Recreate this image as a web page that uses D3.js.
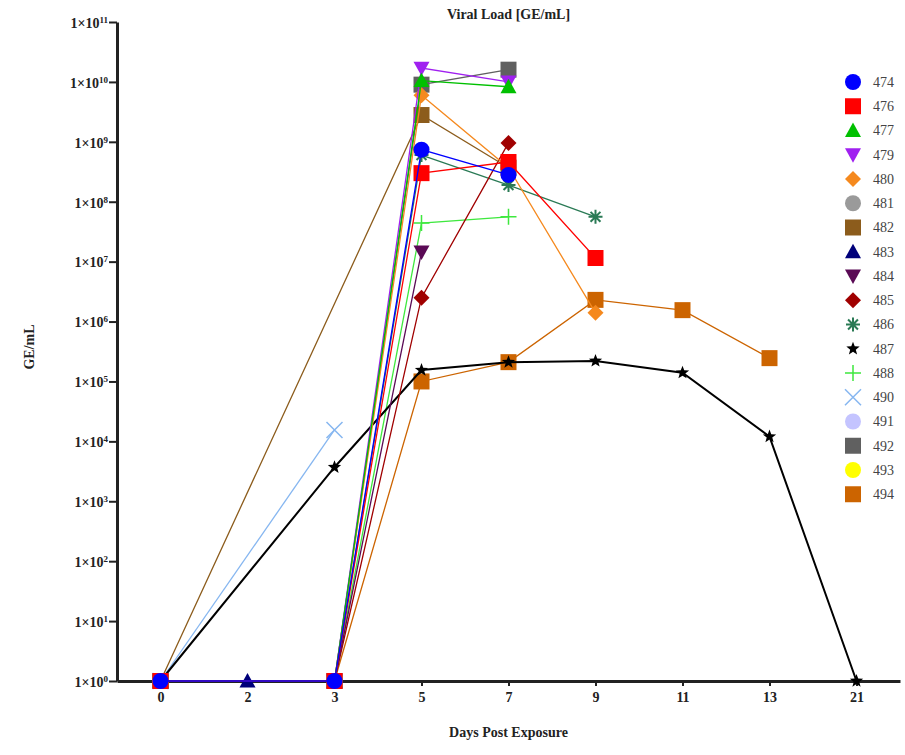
<!DOCTYPE html>
<html>
<head>
<meta charset="utf-8">
<script src="https://cdn.jsdelivr.net/npm/d3@7"></script>
<style>
  body { margin: 0; background: #fff; }
  svg { display: block; font-family: "Liberation Serif", "Times New Roman", serif; }
  .axis path, .axis line { stroke: #222; }
  .axis text { font-weight: bold; font-size: 14px; fill: #222; }
  .title, .label { font-weight: bold; font-size: 14px; fill: #222; }
  .legend text { font-size: 14px; fill: #444; }
</style>
</head>
<body>
<svg id="chart" width="905" height="755"></svg>
<script>
const MARGIN = { top: 22, right: 5, bottom: 74, left: 117 };
const W = 905, H = 755;
const width = W - MARGIN.left - MARGIN.right;
const height = H - MARGIN.top - MARGIN.bottom;

// x categories (days post exposure)
const days = ['0', '2', '3', '5', '7', '9', '11', '13', '21'];
const yTickExp = [0, 1, 2, 3, 4, 5, 6, 7, 8, 9, 10, 11];

// animal ids, one series per animal
const ids = ['474', '476', '477', '479', '480', '481', '482', '483', '484',
  '485', '486', '487', '488', '490', '491', '492', '493', '494'];

// GE/mL per day, aligned with `days`, null = no sample
//            0     2     3      5       7       9       11      13      21
const v474 = [1,    null, 1,     7.4e8,  2.8e8,  null,   null,   null,   null];
const v476 = [1,    null, 1,     3.0e8,  4.6e8,  1.15e7, null,   null,   null];
const v477 = [1,    null, 1,     1.05e10, 8.3e9, null,   null,   null,   null];
const v479 = [1,    null, 1,     1.7e10, 1.0e10, null,   null,   null,   null];
const v480 = [1,    null, 1,     6.0e9,  3.7e8,  1.4e6,  null,   null,   null];
const v481 = [1,    null, null,  null,   null,   null,   null,   null,   null];
const v482 = [1,    null, null,  2.8e9,  3.7e8,  null,   null,   null,   null];
const v483 = [1,    1,    1,     null,   null,   null,   null,   null,   null];
const v484 = [1,    null, 1,     1.45e7, null,   null,   null,   null,   null];
const v485 = [1,    null, 1,     2.5e6,  9.6e8,  null,   null,   null,   null];
const v486 = [1,    null, 1,     6.0e8,  1.9e8,  5.6e7,  null,   null,   null];
const v487 = [1,    null, 3.7e3, 1.55e5, 2.1e5,  2.2e5,  1.4e5,  1.2e4,  1];
const v488 = [1,    null, 1,     4.4e7,  5.6e7,  null,   null,   null,   null];
const v490 = [1,    null, 1.55e4, null,  null,   null,   null,   null,   null];
const v491 = [1,    null, null,  null,   null,   null,   null,   null,   null];
const v492 = [1,    null, 1,     9.0e9,  1.6e10, null,   null,   null,   null];
const v493 = [1,    null, null,  null,   null,   null,   null,   null,   null];
const v494 = [1,    null, 1,     1.0e5,  2.1e5,  2.3e6,  1.55e6, 2.45e5, null];

const values = [v474, v476, v477, v479, v480, v481, v482, v483, v484,
  v485, v486, v487, v488, v490, v491, v492, v493, v494];

// marker style per animal
const colors = ['#0000ff', '#ff0000', '#00c000', '#a020f0', '#f5891e', '#9a9a9a',
  '#8c5c1c', '#00007a', '#5a0a55', '#a00000', '#2a7a55', '#000000', '#3ee83e',
  '#86b6f0', '#c4c4ff', '#606060', '#ffff00', '#cc6400'];
const shapes = ['circle', 'square', 'triUp', 'triDown', 'diamond', 'circle',
  'square', 'triUp', 'triDown', 'diamond', 'asterisk', 'star', 'plus',
  'times', 'circle', 'square', 'circle', 'square'];

const series = ids.map((id, i) => ({
  id,
  color: colors[i],
  shape: shapes[i],
  points: days.map((d, j) => ({ day: d, v: values[i][j] })).filter(p => p.v != null)
}));

const svg = d3.select('#chart');

const x = d3.scalePoint().domain(days).range([0, width]).padding(0.5);
const y = d3.scaleLog().domain([1, 1e11]).range([height, 0]);

const g = svg.append('g').attr('transform', `translate(${MARGIN.left},${MARGIN.top})`);

// marker paths, s = half size in px
function shapePath(type, s) {
  const p = d3.path();
  if (type === 'circle') { p.arc(0, 0, s, 0, 2 * Math.PI); }
  else if (type === 'square') { p.rect(-s, -s, 2 * s, 2 * s); }
  else if (type === 'triUp') { p.moveTo(0, -s); p.lineTo(s, s * 0.8); p.lineTo(-s, s * 0.8); p.closePath(); }
  else if (type === 'triDown') { p.moveTo(0, s); p.lineTo(s, -s * 0.8); p.lineTo(-s, -s * 0.8); p.closePath(); }
  else if (type === 'diamond') { p.moveTo(0, -s); p.lineTo(s, 0); p.lineTo(0, s); p.lineTo(-s, 0); p.closePath(); }
  else if (type === 'star') {
    for (let k = 0; k < 10; k++) {
      const r = k % 2 ? s * 0.42 : s;
      const a = -Math.PI / 2 + k * Math.PI / 5;
      if (k === 0) p.moveTo(r * Math.cos(a), r * Math.sin(a));
      else p.lineTo(r * Math.cos(a), r * Math.sin(a));
    }
    p.closePath();
  }
  else if (type === 'asterisk') {
    for (let k = 0; k < 4; k++) {
      const a = k * Math.PI / 4;
      p.moveTo(-s * Math.cos(a), -s * Math.sin(a));
      p.lineTo(s * Math.cos(a), s * Math.sin(a));
    }
  }
  else if (type === 'plus') { p.moveTo(-s, 0); p.lineTo(s, 0); p.moveTo(0, -s); p.lineTo(0, s); }
  else if (type === 'times') { p.moveTo(-s, -s); p.lineTo(s, s); p.moveTo(-s, s); p.lineTo(s, -s); }
  return p.toString();
}
const strokeOnly = t => t === 'asterisk' || t === 'plus' || t === 'times';
const markSize = t => (t === 'star' || t === 'asterisk') ? 7 : 8;

function drawMark(sel, d) {
  sel.append('path')
    .attr('d', shapePath(d.shape, markSize(d.shape)))
    .attr('fill', strokeOnly(d.shape) ? 'none' : d.color)
    .attr('stroke', d.color)
    .attr('stroke-width', strokeOnly(d.shape) ? (d.shape === 'asterisk' ? 2 : 1.5) : 0);
}

// AXES
const yAxis = d3.axisLeft(y)
  .tickValues(yTickExp.map(e => Math.pow(10, e)))
  .tickSize(8)
  .tickSizeOuter(0)
  .tickPadding(1)
  .tickFormat('');

const $yAxis = g.append('g').attr('class', 'axis axis--y').call(yAxis)
  .attr('font-family', null).attr('font-size', null);
$yAxis.select('.domain').attr('stroke-width', 3);
$yAxis.selectAll('.tick line').attr('stroke-width', 2);
$yAxis.selectAll('.tick text').each(function (d) {
  const t = d3.select(this);
  t.text('1×10');
  t.append('tspan')
    .attr('dy', -5)
    .style('font-size', '9px')
    .text(Math.round(Math.log10(d)));
}).attr('dy', '0.38em');

const xAxis = d3.axisBottom(x).tickSize(5).tickSizeOuter(0).tickPadding(6);
const $xAxis = g.append('g').attr('class', 'axis axis--x')
  .attr('transform', `translate(0,${height})`)
  .call(xAxis)
  .attr('font-family', null).attr('font-size', null);
$xAxis.select('.domain').attr('stroke-width', 3);
$xAxis.selectAll('.tick line').attr('stroke-width', 2);

// TITLES
svg.append('text').attr('class', 'title')
  .attr('x', MARGIN.left + width / 2).attr('y', 19)
  .attr('text-anchor', 'middle')
  .text('Viral Load [GE/mL]');

svg.append('text').attr('class', 'label')
  .attr('x', MARGIN.left + width / 2).attr('y', 737)
  .attr('text-anchor', 'middle')
  .text('Days Post Exposure');

svg.append('text').attr('class', 'label')
  .attr('transform', `translate(34,${MARGIN.top + 325}) rotate(-90)`)
  .attr('text-anchor', 'middle')
  .text('GE/mL');

// DATA (drawn last-to-first so 474 ends on top)
const line = d3.line().x(p => x(p.day)).y(p => y(p.v));

const $series = g.append('g').attr('class', 'series')
  .selectAll('g.serie')
  .data(series.slice().reverse())
  .join('g').attr('class', 'serie');

$series.append('path')
  .attr('d', d => line(d.points))
  .attr('fill', 'none')
  .attr('stroke', d => d.color)
  .attr('stroke-width', d => d.id === '487' ? 2 : 1.3);

$series.each(function (d) {
  const $s = d3.select(this);
  d.points.forEach(p => {
    const m = $s.append('g').attr('transform', `translate(${x(p.day)},${y(p.v)})`);
    drawMark(m, d);
  });
});

// LEGEND
const $legend = svg.append('g').attr('class', 'legend')
  .attr('transform', `translate(853,82)`);
const $item = $legend.selectAll('g.item')
  .data(series)
  .join('g').attr('class', 'item')
  .attr('transform', (d, i) => `translate(0,${i * 24.25})`);
$item.each(function (d) { drawMark(d3.select(this), d); });
$item.append('text')
  .attr('x', 20).attr('dy', '0.35em')
  .text(d => d.id);
</script>
</body>
</html>
